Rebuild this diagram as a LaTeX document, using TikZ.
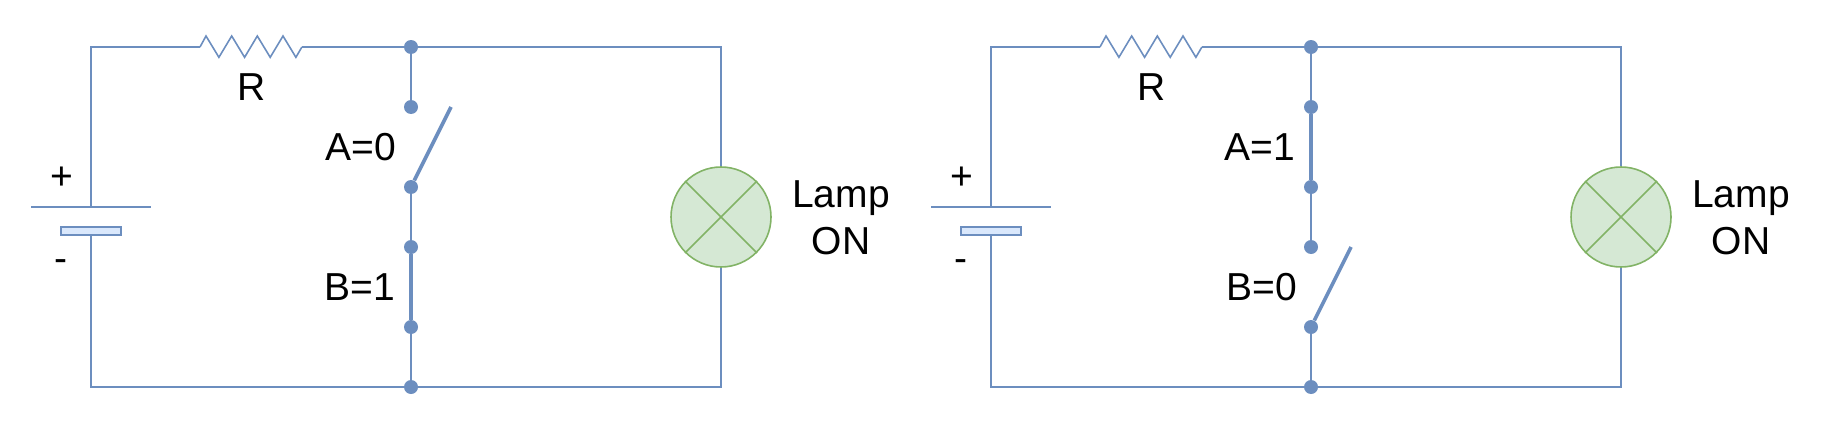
\documentclass[tikz,border=0pt]{standalone}
\usepackage{fontspec}
\setmainfont{Liberation Sans}
\usetikzlibrary{calc}
\definecolor{wireblue}{HTML}{6C8EBF}
\definecolor{platefill}{HTML}{DAE8FC}
\definecolor{lampgreen}{HTML}{82B366}
\definecolor{lampfill}{HTML}{D5E8D4}
\tikzset{
	wire/.style={line width=0.032cm, color=wireblue},
	switchbar/.style={line width=0.072cm, color=wireblue},
	contact/.style={circle, fill=wireblue, inner sep=0, minimum size=0.28cm},
	plate/.style={rectangle, draw=wireblue, fill=platefill, line width=0.032cm, inner sep=0, minimum width=1.2cm, minimum height=0.16cm},
	lampbody/.style={circle, draw=lampgreen, fill=lampfill, line width=0.032cm, inner sep=0, minimum size=2cm},
	lampcross/.style={line width=0.032cm, color=lampgreen},
	caption/.style={inner sep=0, font=\fontsize{22.2}{27}\selectfont, align=center},
}
\def\zigzag(#1){\draw[wire] (#1) -- ++(6,-11) -- ++(12.9,21.3) -- ++(12.8,-21.3) -- ++(12.9,21.3) -- ++(12.7,-21.3) -- ++(12.9,21.3) -- ++(12.8,-21.3) -- ++(12.9,21.3) -- ++(6,-10.3);}

\begin{document}
\begin{tikzpicture}[x=0.02cm, y=-0.02cm]
			\useasboundingbox (0, 0) rectangle (1842, 436);
			%%%%% LEFT CIRCUIT %%%%%
			
			\coordinate (lplus) at (91, 207);
			\coordinate (lplusw) at (31, 207);
			\coordinate (lpluse) at (151, 207);
			\coordinate (lresw) at (200, 47);
			\coordinate (lrese) at (302, 47);
			\coordinate (lopen) at (451, 107);
			\node[plate] (lminus) at (91, 231) {};
			\node[lampbody] (llamp) at (721, 217) {};
			\node[contact] (ltop) at (411, 47) {};
			\node[contact] (la1) at (411, 107) {};
			\node[contact] (la2) at (411, 187) {};
			\node[contact] (lb1) at (411, 247) {};
			\node[contact] (lb2) at (411, 327) {};
			\node[contact] (lbot) at (411, 387) {};
			
			\draw[wire] (lplusw) -- (lpluse);
			\draw[wire] (lplus) |- (lresw);
			\zigzag(lresw);
			\draw[wire] (lrese) -- (ltop);
			\draw[wire] (ltop) -| (llamp);
			\draw[wire] (llamp) |- (lbot);
			\draw[wire] (lminus) |- (lbot);
			\draw[wire] (ltop) -- (la1);
			\draw[wire] (la2) -- (lb1);
			\draw[wire] (lb2) -- (lbot);
			\draw[switchbar] (la2) -- (lopen);
			\draw[switchbar] (lb1) -- (lb2);
			\draw[lampcross] (llamp.45) -- (llamp.225);
			\draw[lampcross] (llamp.135) -- (llamp.315);
			
			\node[caption] (lplustext) at (62, 178) {+};
			\node[caption] (lminustext) at (61, 266) {-};
			\node[caption] (lrtext) at (252, 87) {R};
			\node[caption] (latext) at (361, 147.5) {A=0};
			\node[caption] (lbtext) at (360, 287.5) {B=1};
			\node[caption] (llamptext) at (841, 217.5) {Lamp\\ON};
			
			%%%%% RIGHT CIRCUIT %%%%%
			
			\coordinate (rplus) at (991, 207);
			\coordinate (rplusw) at (931, 207);
			\coordinate (rpluse) at (1051, 207);
			\coordinate (rresw) at (1100, 47);
			\coordinate (rrese) at (1202, 47);
			\coordinate (ropen) at (1351, 247);
			\node[plate] (rminus) at (991, 231) {};
			\node[lampbody] (rlamp) at (1621, 217) {};
			\node[contact] (rtop) at (1311, 47) {};
			\node[contact] (ra1) at (1311, 107) {};
			\node[contact] (ra2) at (1311, 187) {};
			\node[contact] (rb1) at (1311, 247) {};
			\node[contact] (rb2) at (1311, 327) {};
			\node[contact] (rbot) at (1311, 387) {};
			
			\draw[wire] (rplusw) -- (rpluse);
			\draw[wire] (rplus) |- (rresw);
			\zigzag(rresw);
			\draw[wire] (rrese) -- (rtop);
			\draw[wire] (rtop) -| (rlamp);
			\draw[wire] (rlamp) |- (rbot);
			\draw[wire] (rminus) |- (rbot);
			\draw[wire] (rtop) -- (ra1);
			\draw[wire] (ra2) -- (rb1);
			\draw[wire] (rb2) -- (rbot);
			\draw[switchbar] (ra1) -- (ra2);
			\draw[switchbar] (rb2) -- (ropen);
			\draw[lampcross] (rlamp.45) -- (rlamp.225);
			\draw[lampcross] (rlamp.135) -- (rlamp.315);
			
			\node[caption] (rplustext) at (962, 178) {+};
			\node[caption] (rminustext) at (961, 266) {-};
			\node[caption] (rrtext) at (1152, 87) {R};
			\node[caption] (ratext) at (1260, 147.5) {A=1};
			\node[caption] (rbtext) at (1261.5, 287.5) {B=0};
			\node[caption] (rlamptext) at (1741, 217.5) {Lamp\\ON};
			
			%%%%% END %%%%%
		\end{tikzpicture}
\end{document}
